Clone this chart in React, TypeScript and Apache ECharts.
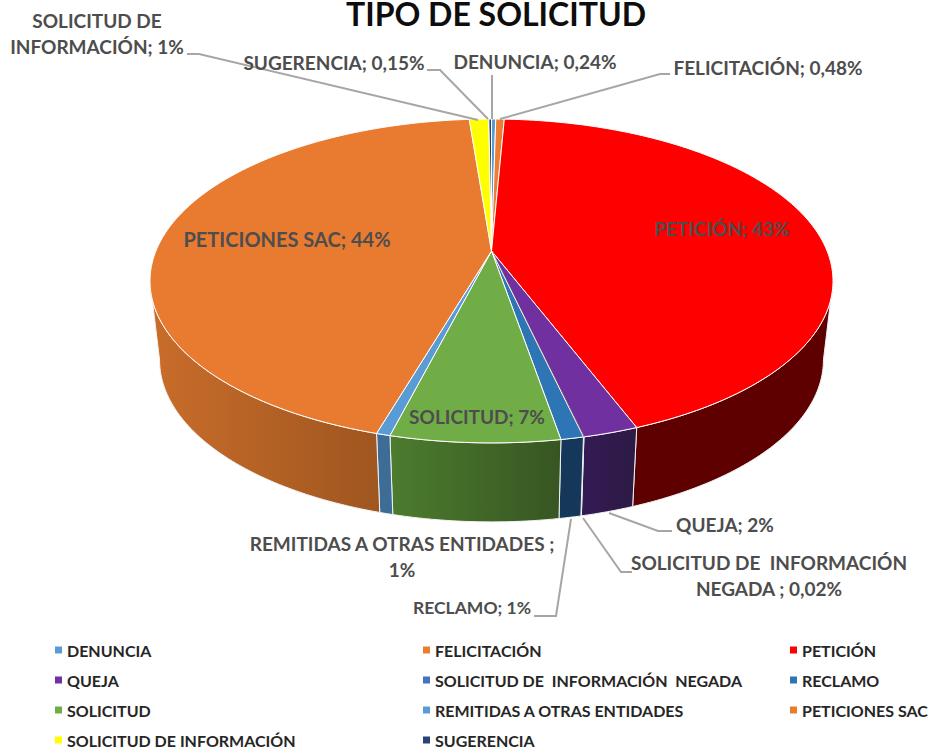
import React, { useEffect, useRef } from "react";
import * as echarts from "echarts";

const categories = ["DENUNCIA", "FELICITACIÓN", "PETICIÓN", "QUEJA", "SOLICITUD DE  INFORMACIÓN  NEGADA", "RECLAMO", "SOLICITUD", "REMITIDAS A OTRAS ENTIDADES", "PETICIONES SAC", "SOLICITUD DE INFORMACIÓN", "SUGERENCIA"];
const values = [0.24, 0.48, 43.45, 2.2, 0.02, 0.9, 6.7, 0.55, 44.2, 1.1, 0.15];
const topColors = ["#5b9bd5", "#ed7d31", "#ff0000", "#7030a0", "#4472c4", "#2e75b6", "#70ad47", "#5b9bd5", "#e97b31", "#ffff00", "#264478"];
const wallFrom = ["#3c6a94", "#a4561f", "#5e0000", "#351a55", "#5e1010", "#14375a", "#4c7c2e", "#3d6c96", "#c96d2b", "#a0a000", "#1a2e50"];
const wallTo = ["#3c6a94", "#a4561f", "#5e0000", "#2c1a44", "#5e1010", "#14375a", "#375522", "#3d6c96", "#9f561f", "#a0a000", "#1a2e50"];
const edgeColors = ["#fff", "#fff", "#fff", "#fff", "#6b2a2a", "#fff", "#fff", "#fff", "#fff", "#fff", "#fff"];

const legendColumns = [
  ["DENUNCIA", "QUEJA", "SOLICITUD", "SOLICITUD DE INFORMACIÓN"],
  ["FELICITACIÓN", "SOLICITUD DE  INFORMACIÓN  NEGADA", "REMITIDAS A OTRAS ENTIDADES", "SUGERENCIA"],
  ["PETICIÓN", "RECLAMO", "PETICIONES SAC"],
];
const legendLefts = [55, 423, 790];

const dataLabels = [
  { text: "SOLICITUD DE\nINFORMACIÓN; 1%", x: 97, y: 33, size: 19 },
  { text: "SUGERENCIA; 0,15%", x: 334, y: 62, size: 19 },
  { text: "DENUNCIA; 0,24%", x: 535, y: 61, size: 19 },
  { text: "FELICITACIÓN; 0,48%", x: 768, y: 67, size: 19 },
  { text: "PETICIÓN; 43%", x: 722, y: 228, size: 19 },
  { text: "PETICIONES SAC; 44%", x: 287, y: 239, size: 20 },
  { text: "SOLICITUD; 7%", x: 477, y: 416, size: 19 },
  { text: "QUEJA; 2%", x: 725, y: 524, size: 19 },
  { text: "SOLICITUD DE  INFORMACIÓN\nNEGADA ; 0,02%", x: 769, y: 575, size: 19 },
  { text: "REMITIDAS A OTRAS ENTIDADES ;\n1%", x: 402, y: 556, size: 19 },
  { text: "RECLAMO; 1%", x: 472, y: 607, size: 17.5 },
];
const leaders = [
  [[187, 54], [199, 54], [478, 120]],
  [[427, 70], [440, 70], [488, 119]],
  [[492, 75], [492, 119]],
  [[670, 74], [660, 74], [500, 119]],
  [[609, 513], [658, 531], [672, 531]],
  [[583, 518], [621, 572], [632, 572]],
  [[534, 616], [556, 616], [571, 519]],
];

// Perspective projection of the pie's circular top and bottom faces
const CX = 491.5;
const APEX_Y = 251;
const A = 156.4;
const B = -0.185;
const C = 335.6;
const DEPTH_Y = 79;
const DEPTH_X = 0.972;

function project(theta: number, bottom: boolean): number[] {
  const u = Math.sin(theta);
  const v = -Math.cos(theta);
  const w = 1 + B * v;
  return [
    CX + (C * (bottom ? DEPTH_X : 1) * u) / w,
    APEX_Y + (bottom ? DEPTH_Y : 0) + (A * v) / w,
  ];
}

function arc(a0: number, a1: number, bottom: boolean): number[][] {
  const n = Math.max(1, Math.ceil(Math.abs(a1 - a0) / (Math.PI / 180)));
  const pts: number[][] = [];
  for (let i = 0; i <= n; i++) pts.push(project(a0 + ((a1 - a0) * i) / n, bottom));
  return pts;
}

const total = values.reduce((s, v) => s + v, 0);
const VIS_START = Math.acos(B);
const VIS_END = 2 * Math.PI - VIS_START;

function makeRenderItem(index: number) {
  return (_params: any, api: any) => {
    const before = values.slice(0, index).reduce((s, v) => s + v, 0);
    const a0 = (before / total) * 2 * Math.PI;
    const a1 = ((before + api.value(0)) / total) * 2 * Math.PI;
    const children: any[] = [];
    const w0 = Math.max(a0, VIS_START);
    const w1 = Math.min(a1, VIS_END);
    if (w1 > w0) {
      children.push({
        type: "polygon",
        z2: 1,
        shape: { points: [...arc(w0, w1, false), ...arc(w1, w0, true)] },
        style: {
          fill: new echarts.graphic.LinearGradient(0, 0, 1, 0, [
            { offset: 0, color: wallFrom[index] },
            { offset: 1, color: wallTo[index] },
          ]),
          stroke: "#f2f2f2",
          lineWidth: 1,
        },
      });
    }
    children.push({
      type: "polygon",
      z2: 10,
      shape: { points: [[CX, APEX_Y], ...arc(a0, a1, false)] },
      style: { fill: topColors[index], stroke: edgeColors[index], lineWidth: 1 },
    });
    return { type: "group", children };
  };
}

export default function App() {
  const ref = useRef<HTMLDivElement>(null);
  useEffect(() => {
    document.body.style.margin = "0";
    const chart = echarts.init(ref.current!, null, { renderer: "svg" });
    chart.setOption({
      animation: false,
      backgroundColor: "#ffffff",
      title: {
        text: "TIPO DE SOLICITUD",
        left: 496,
        top: 0,
        padding: 0,
        textAlign: "center",
        textStyle: { fontFamily: "Lato", fontWeight: "bold", fontSize: 32, lineHeight: 26, color: "#0d0d0d" },
      },
      legend: legendColumns.map((col, i) => ({
        orient: "vertical",
        left: legendLefts[i],
        top: 641,
        padding: 0,
        itemGap: 12,
        itemWidth: 7,
        itemHeight: 7,
        icon: "rect",
        selectedMode: false,
        data: col,
        textStyle: { fontFamily: "Lato", fontWeight: "bold", fontSize: 16, color: "#262626", lineHeight: 18 },
      })),
      series: categories.map((name, i) => ({
        type: "custom",
        name,
        coordinateSystem: "none",
        silent: true,
        itemStyle: { color: topColors[i] },
        data: [[values[i]]],
        renderItem: makeRenderItem(i),
      })),
      graphic: [
        ...leaders.map((points) => ({
          type: "polyline",
          z: 50,
          silent: true,
          shape: { points },
          style: { stroke: "#a6a6a6", lineWidth: 2, fill: "none" },
        })),
        ...dataLabels.map((l) => ({
          type: "text",
          z: 60,
          silent: true,
          x: l.x,
          y: l.y,
          style: { fontFamily: "Lato", fontWeight: "bold", fontSize: l.size, text: l.text, fill: "#4d4d4d", align: "center", verticalAlign: "middle", lineHeight: 26 },
        })),
      ],
    });
    return () => chart.dispose();
  }, []);
  return <div ref={ref} style={{ position: "absolute", left: 0, top: 0, width: 932, height: 751 }} />;
}
